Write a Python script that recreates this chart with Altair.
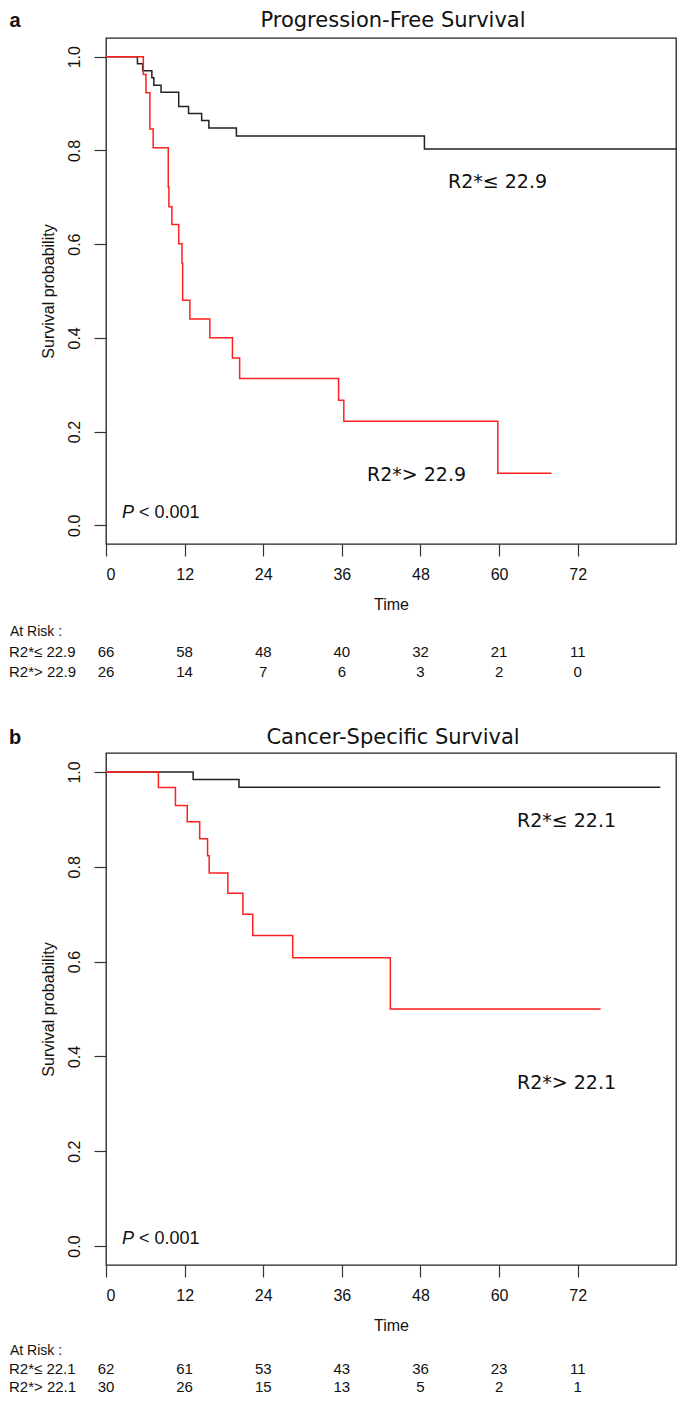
import altair as alt
import pandas as pd

# ---------- Panel a: Progression-Free Survival ----------
a_low_t = [0, 4.8, 5.6, 7.0, 7.3, 8.4, 11.1, 12.6, 14.6, 15.7, 19.9, 48.6, 87]
a_low_s = [1, 0.985, 0.970, 0.955, 0.939, 0.924, 0.894, 0.879, 0.864, 0.848, 0.831, 0.803, 0.803]
a_high_t = [0, 5.7, 6.1, 6.7, 7.2, 9.5, 9.6, 10.06, 11.1, 11.6, 11.7, 12.8, 15.85, 19.3, 20.4, 35.5, 36.3, 59.8, 68.0]
a_high_s = [1, 0.962, 0.923, 0.846, 0.806, 0.722, 0.68, 0.642, 0.601, 0.560, 0.480, 0.44, 0.40, 0.357, 0.313, 0.267, 0.222, 0.111, 0.111]
a_groups = ["R2*\u2264 22.9", "R2*> 22.9"]
a_risk_low = [66, 58, 48, 40, 32, 21, 11]
a_risk_high = [26, 14, 7, 6, 3, 2, 0]

# ---------- Panel b: Cancer-Specific Survival ----------
b_low_t = [0, 13.3, 20.3, 84.6]
b_low_s = [1, 0.984, 0.968, 0.968]
b_high_t = [0, 8.0, 10.6, 12.4, 14.3, 15.5, 15.75, 18.6, 20.9, 22.4, 28.5, 43.4, 75.5]
b_high_s = [1, 0.967, 0.929, 0.895, 0.859, 0.823, 0.787, 0.744, 0.700, 0.655, 0.608, 0.50, 0.50]
b_groups = ["R2*\u2264 22.1", "R2*> 22.1"]
b_risk_low = [62, 61, 53, 43, 36, 23, 11]
b_risk_high = [30, 26, 15, 13, 5, 2, 1]

risk_times = [0, 12, 24, 36, 48, 60, 72]
x_ticks = [0, 12, 24, 36, 48, 60, 72]
y_ticks = [0.0, 0.2, 0.4, 0.6, 0.8, 1.0]

SANS = "Liberation Sans"
LBL = "DejaVu Sans"


def txt(label, x, y, size=16, font=SANS, align="left", weight="normal", style="normal"):
    return alt.Chart(pd.DataFrame({"label": [label]})).mark_text(
        align=align, baseline="middle", font=font, fontSize=size,
        fontWeight=weight, fontStyle=style, color="#111"
    ).encode(text="label:N", x=alt.value(x), y=alt.value(y))


def panel(letter, title, title_dy, lt, ls, ht, hs, groups, rlow, rhigh,
          xmax, w, h, lab_low, lab_high, pval, risk_dy):
    df = pd.concat([
        pd.DataFrame({"t": lt, "s": ls, "g": groups[0]}),
        pd.DataFrame({"t": ht, "s": hs, "g": groups[1]}),
    ])
    xs = alt.Scale(domain=[0, xmax], nice=False, zero=False)
    ys = alt.Scale(domain=[-0.04, 1.04], nice=False, zero=False)
    xax = alt.Axis(values=x_ticks, title="Time", grid=False, domain=False,
                   tickSize=12, tickColor="#333", tickWidth=1.2,
                   labelFont=SANS, labelFontSize=16, labelColor="#111", labelPadding=10,
                   titleFont=SANS, titleFontSize=16, titleFontWeight="normal",
                   titleColor="#111", titlePadding=14)
    yax = alt.Axis(values=y_ticks, format=".1f", title="Survival probability", grid=False,
                   domain=False, tickSize=12, tickColor="#333", tickWidth=1.2,
                   labelFont=SANS, labelFontSize=16, labelColor="#111", labelAngle=270,
                   labelAlign="center", labelBaseline="bottom", labelPadding=12,
                   titleFont=SANS, titleFontSize=16, titleFontWeight="normal",
                   titleColor="#111", titlePadding=10)
    xenc = alt.X("t:Q", scale=xs, axis=xax)

    lines = alt.Chart(df).mark_line(interpolate="step-after", strokeWidth=1.5, clip=True).encode(
        x=xenc,
        y=alt.Y("s:Q", scale=ys, axis=yax),
        color=alt.Color("g:N", scale=alt.Scale(domain=groups, range=["#222222", "#ff2020"]), legend=None),
    )

    r1 = alt.Chart(pd.DataFrame({"t": risk_times, "n": rlow})).mark_text(
        font=SANS, fontSize=15, color="#111", baseline="middle", align="center"
    ).encode(x=xenc, y=alt.value(h + risk_dy[1]), text="n:Q")
    r2 = alt.Chart(pd.DataFrame({"t": risk_times, "n": rhigh})).mark_text(
        font=SANS, fontSize=15, color="#111", baseline="middle", align="center"
    ).encode(x=xenc, y=alt.value(h + risk_dy[2]), text="n:Q")

    layers = [
        lines, r1, r2,
        txt("At Risk :", -96, h + risk_dy[0], size=14, font=SANS, align="left"),
        txt(groups[0], -97, h + risk_dy[1], size=15, font=SANS),
        txt(groups[1], -97, h + risk_dy[2], size=15, font=SANS),
        txt(letter, -91, title_dy, size=20, font=SANS, align="center", weight="bold"),
        txt(title, 287, title_dy, size=21, font=LBL, align="center"),
        txt(groups[0], lab_low[0], lab_low[1], size=19, font=LBL),
        txt(groups[1], lab_high[0], lab_high[1], size=19, font=LBL),
        txt("P", pval[0], pval[1], size=18, font=SANS, style="italic"),
        txt("< 0.001", pval[0] + 17, pval[1], size=18, font=SANS),
    ]
    return alt.layer(*layers).properties(width=w, height=h)


pa = panel("a", "Progression-Free Survival", -17, a_low_t, a_low_s, a_high_t, a_high_s,
           a_groups, a_risk_low, a_risk_high, 87, 570, 506,
           (342, 144), (261, 437), (16, 475), (88, 108, 128))
pb = panel("b", "Cancer-Specific Survival", -15, b_low_t, b_low_s, b_high_t, b_high_s,
           b_groups, b_risk_low, b_risk_high, 87, 570, 512,
           (411, 68), (411, 330), (16, 486), (86, 104, 122))

chart = alt.vconcat(pa, pb, spacing=45).properties(
    padding={"left": 0, "top": 1, "right": 0, "bottom": 0}
).configure_view(stroke="#222", strokeWidth=1.3)

chart.save("out.html", embed_options={"renderer": "svg", "actions": False})
